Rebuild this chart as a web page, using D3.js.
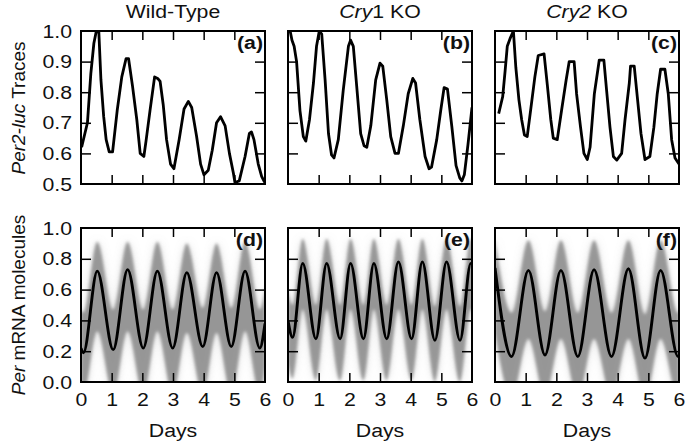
<!DOCTYPE html>
<html>
<head>
<meta charset="utf-8">
<script src="https://cdn.jsdelivr.net/npm/d3@7"></script>
<style>
  body { margin: 0; background: #fff; }
  svg text { font-family: "Liberation Sans", Arial, sans-serif; fill: #111; }
</style>
</head>
<body>
<div id="graphic"></div>
<script>
// tick values
var xTicks = [0, 1, 2, 3, 4, 5, 6];
var topTicks = [0.5, 0.6, 0.7, 0.8, 0.9, 1.0];
var botTicks = [0.0, 0.2, 0.4, 0.6, 0.8, 1.0];
var panelLetters = ["(a)", "(b)", "(c)", "(d)", "(e)", "(f)"];

// Per2-luc traces (top row)
var wtLucDays = [0.02,0.21,0.32,0.42,0.50,0.58,0.65,0.74,0.82,0.92,1.03,1.18,1.33,1.47,1.55,1.68,1.82,1.93,2.05,2.12,2.25,2.40,2.50,2.58,2.68,2.79,2.92,3.03,3.20,3.36,3.50,3.61,3.77,3.90,4.01,4.15,4.28,4.42,4.55,4.70,4.84,4.97,5.02,5.16,5.35,5.49,5.56,5.64,5.78,5.89,5.99];
var wtLuc     = [0.62,0.70,0.86,0.96,1.00,1.00,0.84,0.72,0.645,0.605,0.605,0.74,0.85,0.91,0.91,0.82,0.71,0.60,0.59,0.64,0.74,0.85,0.845,0.835,0.76,0.645,0.565,0.55,0.645,0.745,0.77,0.75,0.655,0.565,0.53,0.545,0.61,0.70,0.72,0.69,0.60,0.535,0.505,0.51,0.59,0.665,0.67,0.645,0.565,0.525,0.505];

var cry1LucDays = [0.00,0.07,0.13,0.20,0.28,0.39,0.50,0.58,0.70,0.83,0.93,1.02,1.10,1.21,1.32,1.42,1.50,1.64,1.80,1.97,2.04,2.13,2.24,2.37,2.48,2.57,2.70,2.86,3.00,3.09,3.22,3.35,3.49,3.60,3.76,3.92,4.07,4.16,4.30,4.47,4.60,4.68,4.85,4.98,5.09,5.20,5.34,5.48,5.60,5.67,5.75,5.87,6.00];
var cry1Luc     = [1.00,1.00,0.97,0.95,0.90,0.74,0.655,0.64,0.71,0.83,0.95,1.00,0.99,0.84,0.665,0.595,0.585,0.645,0.805,0.95,0.97,0.95,0.82,0.665,0.625,0.62,0.69,0.84,0.895,0.885,0.775,0.655,0.60,0.60,0.69,0.795,0.845,0.83,0.71,0.59,0.55,0.555,0.645,0.74,0.815,0.81,0.69,0.56,0.52,0.51,0.53,0.63,0.75];

var cry2LucDays = [0.12,0.25,0.33,0.40,0.49,0.60,0.68,0.78,0.87,0.96,1.05,1.16,1.30,1.41,1.60,1.71,1.82,1.90,2.03,2.17,2.32,2.42,2.58,2.66,2.79,2.90,3.01,3.10,3.24,3.40,3.55,3.64,3.75,3.86,3.97,4.13,4.24,4.38,4.42,4.54,4.64,4.76,4.89,5.05,5.18,5.29,5.40,5.54,5.65,5.76,5.87,6.00];
var cry2Luc     = [0.73,0.785,0.87,0.95,0.975,1.00,0.88,0.775,0.71,0.66,0.655,0.74,0.85,0.92,0.925,0.82,0.71,0.65,0.645,0.74,0.84,0.90,0.90,0.795,0.685,0.60,0.58,0.62,0.795,0.905,0.905,0.805,0.685,0.59,0.578,0.60,0.71,0.83,0.885,0.885,0.785,0.665,0.58,0.59,0.685,0.795,0.875,0.875,0.795,0.645,0.585,0.565];

// Per mRNA molecules (bottom row): mean trace and spread of the stochastic traces
var wtMrnaDays = [0.00,0.08,0.53,1.05,1.52,2.03,2.49,2.99,3.45,3.97,4.42,4.90,5.35,5.83,6.00];
var wtMrna     = [0.22,0.19,0.72,0.21,0.73,0.22,0.72,0.22,0.71,0.23,0.71,0.23,0.72,0.22,0.38];
var wtMrnaHi   = [0.47,0.45,0.91,0.47,0.91,0.47,0.91,0.47,0.90,0.48,0.90,0.48,0.91,0.47,0.62];
var wtMrnaLo   = [-0.06,-0.08,0.33,-0.08,0.33,-0.08,0.33,-0.08,0.32,-0.08,0.32,-0.08,0.33,-0.08,0.10];

var cry1MrnaDays = [0.00,0.15,0.48,0.91,1.26,1.70,2.04,2.46,2.80,3.22,3.60,4.03,4.38,4.79,5.17,5.61,5.96,6.00];
var cry1Mrna     = [0.40,0.29,0.77,0.28,0.77,0.28,0.77,0.28,0.77,0.28,0.78,0.28,0.78,0.27,0.78,0.27,0.77,0.77];
var cry1MrnaHi   = [0.60,0.50,0.93,0.50,0.93,0.50,0.93,0.50,0.93,0.50,0.93,0.50,0.93,0.49,0.93,0.49,0.93,0.93];
var cry1MrnaLo   = [0.12,0.02,0.47,0.01,0.47,0.01,0.47,0.01,0.47,0.01,0.47,0.01,0.47,0.00,0.47,0.00,0.47,0.47];

var cry2MrnaDays = [0.00,0.54,1.09,1.63,2.15,2.70,3.23,3.80,4.35,4.89,5.40,5.97,6.00];
var cry2Mrna     = [0.74,0.165,0.725,0.175,0.725,0.165,0.73,0.165,0.735,0.155,0.725,0.165,0.165];
var cry2MrnaHi   = [0.93,0.45,0.92,0.46,0.92,0.45,0.92,0.45,0.92,0.44,0.92,0.45,0.45];
var cry2MrnaLo   = [0.32,-0.10,0.28,-0.09,0.28,-0.10,0.28,-0.10,0.28,-0.11,0.28,-0.10,-0.10];

var svg = d3.select("#graphic").append("svg")
    .attr("width", 686)
    .attr("height", 444);

var defs = svg.append("defs");
defs.append("filter").attr("id", "soft").attr("x", "-20%").attr("y", "-20%").attr("width", "140%").attr("height", "140%")
    .append("feGaussianBlur").attr("stdDeviation", 1.6);
defs.append("filter").attr("id", "haze").attr("x", "-20%").attr("y", "-20%").attr("width", "140%").attr("height", "140%")
    .append("feGaussianBlur").attr("stdDeviation", 4);

var colX = [81, 288, 495];
var pw = 184;
var rows = [
    { top: 31, bottom: 184, domain: [0.5, 1.0], ticks: topTicks },
    { top: 228, bottom: 382, domain: [0.0, 1.0], ticks: botTicks }
];
var fs = 19;
var stretch = "scale(1.12,1)";

var topSeries = [
    { days: wtLucDays, vals: wtLuc },
    { days: cry1LucDays, vals: cry1Luc },
    { days: cry2LucDays, vals: cry2Luc }
];
var botSeries = [
    { days: wtMrnaDays, vals: wtMrna, hi: wtMrnaHi, lo: wtMrnaLo },
    { days: cry1MrnaDays, vals: cry1Mrna, hi: cry1MrnaHi, lo: cry1MrnaLo },
    { days: cry2MrnaDays, vals: cry2Mrna, hi: cry2MrnaHi, lo: cry2MrnaLo }
];

rows.forEach(function(row, r) {
    colX.forEach(function(x0, c) {
        var id = r * 3 + c;
        var x = d3.scaleLinear().domain([0, 6]).range([x0, x0 + pw]);
        var y = d3.scaleLinear().domain(row.domain).range([row.bottom, row.top]);
        var g = svg.append("g");

        defs.append("clipPath").attr("id", "clip" + id)
            .append("rect")
            .attr("x", x0).attr("y", row.top)
            .attr("width", pw).attr("height", row.bottom - row.top);

        var plot = g.append("g").attr("clip-path", "url(#clip" + id + ")");

        if (r === 0) {
            var s = topSeries[c];
            var line = d3.line()
                .x(function(d, i) { return x(s.days[i]); })
                .y(function(d) { return y(d); });
            plot.append("path")
                .attr("d", line(s.vals))
                .attr("fill", "none")
                .attr("stroke", "#000")
                .attr("stroke-width", 2.8)
                .attr("stroke-linejoin", "round");
        } else {
            var b = botSeries[c];
            var area = d3.area()
                .curve(d3.curveMonotoneX)
                .x(function(d, i) { return x(b.days[i]); })
                .y0(function(d, i) { return y(b.lo[i]); })
                .y1(function(d, i) { return y(b.hi[i]); });
            plot.append("g").attr("filter", "url(#haze)")
                .append("path")
                .attr("d", area(b.vals))
                .attr("fill", "#9a9a9a")
                .attr("opacity", 0.35);
            plot.append("g").attr("filter", "url(#soft)")
                .append("path")
                .attr("d", area(b.vals))
                .attr("fill", "#8a8a8a")
                .attr("opacity", 0.85);
            var mline = d3.line()
                .curve(d3.curveMonotoneX)
                .x(function(d, i) { return x(b.days[i]); })
                .y(function(d) { return y(d); });
            plot.append("path")
                .attr("d", mline(b.vals))
                .attr("fill", "none")
                .attr("stroke", "#000")
                .attr("stroke-width", 2.9);
        }

        // axes, ticks pointing inward; labels only on outer edges
        var inner = xTicks.slice(1, -1);
        var innerY = row.ticks.slice(1, -1);

        var ax = g.append("g").attr("transform", "translate(0," + row.bottom + ")")
            .call(d3.axisBottom(x).tickValues(r === 1 ? xTicks : inner)
                .tickSizeInner(-9).tickSizeOuter(0).tickPadding(8)
                .tickFormat(r === 1 ? d3.format("d") : ""));
        g.append("g").attr("transform", "translate(0," + row.top + ")")
            .call(d3.axisTop(x).tickValues(inner).tickSizeInner(-9).tickSizeOuter(0).tickFormat(""));
        var ay = g.append("g").attr("transform", "translate(" + x0 + ",0)")
            .call(d3.axisLeft(y).tickValues(c === 0 ? row.ticks : innerY)
                .tickSizeInner(-10).tickSizeOuter(0).tickPadding(8)
                .tickFormat(c === 0 ? d3.format(".1f") : ""));
        g.append("g").attr("transform", "translate(" + (x0 + pw) + ",0)")
            .call(d3.axisRight(y).tickValues(innerY).tickSizeInner(-10).tickSizeOuter(0).tickFormat(""));

        g.selectAll(".domain").remove();
        g.selectAll(".tick line").attr("stroke", "#000").attr("stroke-width", 1.5);
        ax.selectAll(".tick line").filter(function(d) { return d === 0 || d === 6; }).remove();
        ay.selectAll(".tick line").filter(function(d) { return d === row.domain[0] || d === row.domain[1]; }).remove();
        g.selectAll(".tick text")
            .attr("font-size", fs)
            .attr("font-family", "Liberation Sans, Arial, sans-serif")
            .attr("fill", "#111")
            .attr("transform", stretch);
        if (r === 1) {
            ax.selectAll(".tick text").attr("dy", "0.85em");
        }

        g.append("rect")
            .attr("x", x0).attr("y", row.top)
            .attr("width", pw).attr("height", row.bottom - row.top)
            .attr("fill", "none")
            .attr("stroke", "#000")
            .attr("stroke-width", 2);

        g.append("text")
            .attr("transform", "translate(" + (x0 + pw - 2) + "," + (row.top + 18) + ") " + stretch)
            .attr("text-anchor", "end")
            .attr("font-size", fs)
            .attr("font-weight", "bold")
            .text(panelLetters[id]);

        if (r === 1) {
            g.append("text")
                .attr("transform", "translate(" + (x0 + pw / 2) + ",437) " + stretch)
                .attr("text-anchor", "middle")
                .attr("font-size", fs)
                .text("Days");
        }
    });
});

// column titles
var titles = [
    [{ t: "Wild-Type", it: false }],
    [{ t: "Cry", it: true }, { t: "1 KO", it: false }],
    [{ t: "Cry2", it: true }, { t: " KO", it: false }]
];
titles.forEach(function(parts, c) {
    var t = svg.append("text")
        .attr("transform", "translate(" + (colX[c] + pw / 2) + ",18) " + stretch)
        .attr("text-anchor", "middle")
        .attr("font-size", fs);
    parts.forEach(function(p) {
        t.append("tspan").attr("font-style", p.it ? "italic" : "normal").text(p.t);
    });
});

// y axis labels
var yLabels = [
    { cy: 108, parts: [{ t: "Per2-luc", it: true }, { t: " Traces", it: false }] },
    { cy: 305, parts: [{ t: "Per", it: true }, { t: " mRNA molecules", it: false }] }
];
yLabels.forEach(function(lab) {
    var t = svg.append("text")
        .attr("transform", "translate(25," + lab.cy + ") rotate(-90)")
        .attr("text-anchor", "middle")
        .attr("font-size", fs);
    lab.parts.forEach(function(p) {
        t.append("tspan").attr("font-style", p.it ? "italic" : "normal").text(p.t);
    });
});
</script>
</body>
</html>
